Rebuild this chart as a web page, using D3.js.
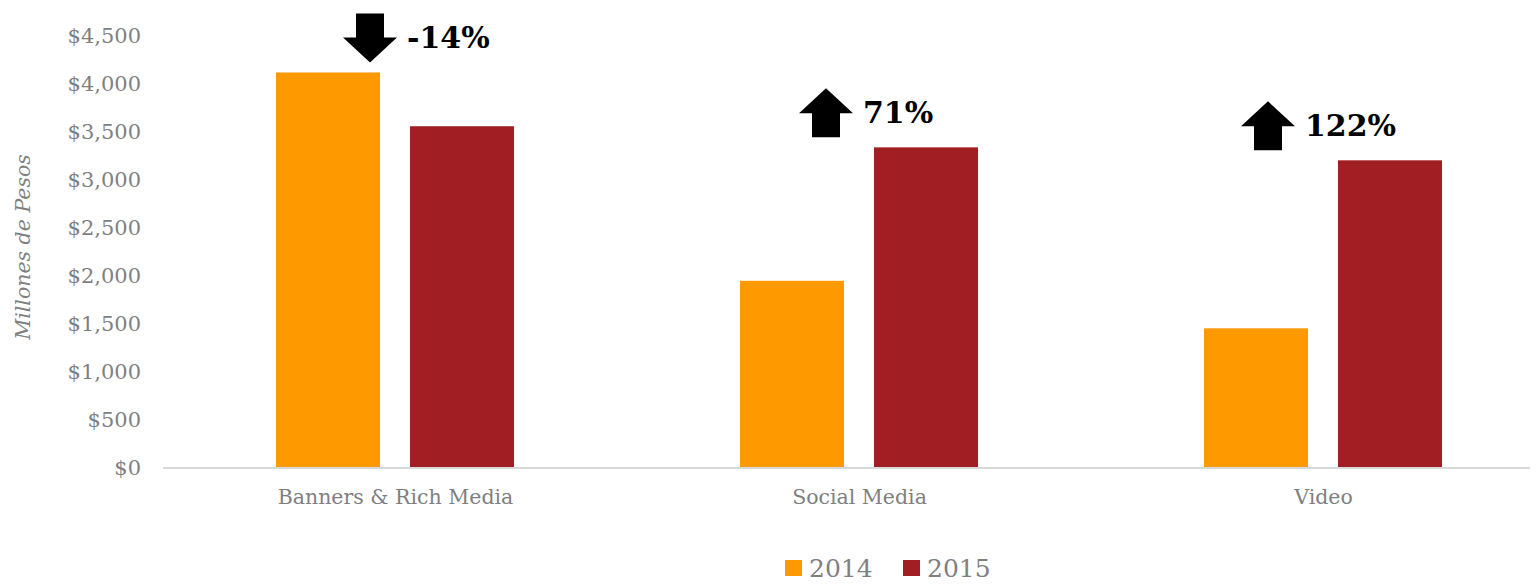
<!DOCTYPE html>
<html>
<head>
<meta charset="utf-8">
<script src="https://cdn.jsdelivr.net/npm/d3@7"></script>
<style>
  body { margin: 0; background: #fff; }
  svg { display: block; font-family: "DejaVu Serif", Georgia, serif; }
</style>
</head>
<body>
<div id="chart"></div>
<script>
// data
var categories = ["Banners & Rich Media", "Social Media", "Video"];
var series = ["2014", "2015"];
var values2014 = [4120, 1950, 1455];
var values2015 = [3560, 3340, 3205];
var changeLabels = ["-14%", "71%", "122%"];
var yTicks = [0, 500, 1000, 1500, 2000, 2500, 3000, 3500, 4000, 4500];

var width = 1540, height = 585;
var color = d3.scaleOrdinal().domain(series).range(["#FF9900", "#A11F22"]);

var svg = d3.select("#chart").append("svg")
    .attr("width", width)
    .attr("height", height);

var y = d3.scaleLinear().domain([0, 4500]).range([468, 36]);
var x0 = d3.scaleBand().domain(categories).range([163, 1555]);
var x1 = d3.scaleBand().domain(series).range([113, 351]).paddingInner(30 / 134);

var rows = categories.map(function(c, i) {
  return { cat: c, vals: [values2014[i], values2015[i]], change: changeLabels[i] };
});

// y axis labels (no line, no ticks)
var fmt = d3.format(",d");
svg.append("g").selectAll("text")
  .data(yTicks)
  .enter().append("text")
    .attr("x", 141)
    .attr("y", function(d) { return y(d); })
    .attr("dy", "0.35em")
    .attr("text-anchor", "end")
    .attr("font-size", 21)
    .attr("fill", "#7f7f7f")
    .text(function(d) { return "$" + fmt(d); });

svg.append("text")
    .attr("transform", "translate(30,247) rotate(-90)")
    .attr("text-anchor", "middle")
    .attr("font-size", 20.5)
    .attr("font-style", "italic")
    .attr("fill", "#7f7f7f")
    .text("Millones de Pesos");

// bars
var group = svg.selectAll(".cat")
  .data(rows)
  .enter().append("g")
    .attr("class", "cat")
    .attr("transform", function(d) { return "translate(" + x0(d.cat) + ",0)"; });

group.selectAll("rect")
  .data(function(d) { return d.vals.map(function(v, i) { return { key: series[i], value: v }; }); })
  .enter().append("rect")
    .attr("x", function(d) { return x1(d.key); })
    .attr("width", x1.bandwidth())
    .attr("y", function(d) { return y(d.value); })
    .attr("height", function(d) { return y(0) - y(d.value); })
    .attr("fill", function(d) { return color(d.key); });

// baseline
svg.append("line")
    .attr("x1", 163).attr("x2", 1530)
    .attr("y1", y(0)).attr("y2", y(0))
    .attr("stroke", "#d9d9d9")
    .attr("stroke-width", 2);

// category labels
group.append("text")
    .attr("x", x0.bandwidth() / 2 + 0.5)
    .attr("y", 497)
    .attr("dy", "0.35em")
    .attr("text-anchor", "middle")
    .attr("font-size", 20.5)
    .attr("fill", "#7f7f7f")
    .text(function(d) { return d.cat; });

// change arrows + labels
var arrowDx = [-10, -18, -40];
var arrowH = 49, headW = 27, bodyW = 14, headH = 25;
group.each(function(d, i) {
  var g = d3.select(this);
  var top = y(d3.max(d.vals));
  var cx = x1("2014") + x1.bandwidth() + arrowDx[i];
  var bottom = top - 10;
  var up = d.vals[1] > d.vals[0];
  var pts;
  if (up) {
    var t = bottom - arrowH;
    pts = [[cx, t], [cx + headW, t + headH], [cx + bodyW, t + headH], [cx + bodyW, bottom],
           [cx - bodyW, bottom], [cx - bodyW, t + headH], [cx - headW, t + headH]];
  } else {
    var t2 = bottom - arrowH;
    pts = [[cx, bottom], [cx + headW, bottom - headH], [cx + bodyW, bottom - headH], [cx + bodyW, t2],
           [cx - bodyW, t2], [cx - bodyW, bottom - headH], [cx - headW, bottom - headH]];
  }
  g.append("path")
      .attr("d", d3.line()(pts) + "Z")
      .attr("fill", "#000");
  g.append("text")
      .attr("x", cx + headW + 10)
      .attr("y", bottom - arrowH / 2)
      .attr("dy", "0.35em")
      .attr("font-size", 30)
      .attr("font-weight", "bold")
      .attr("fill", "#000")
      .text(d.change);
});

// legend
var legend = svg.append("g").selectAll("g")
  .data(series)
  .enter().append("g")
    .attr("transform", function(d, i) { return "translate(" + (785 + i * 118) + ",0)"; });

legend.append("rect")
    .attr("y", 560)
    .attr("width", 17)
    .attr("height", 16)
    .attr("fill", function(d) { return color(d); });

legend.append("text")
    .attr("x", 24)
    .attr("y", 577)
    .attr("font-size", 25)
    .attr("fill", "#7f7f7f")
    .text(function(d) { return d; });
</script>
</body>
</html>
